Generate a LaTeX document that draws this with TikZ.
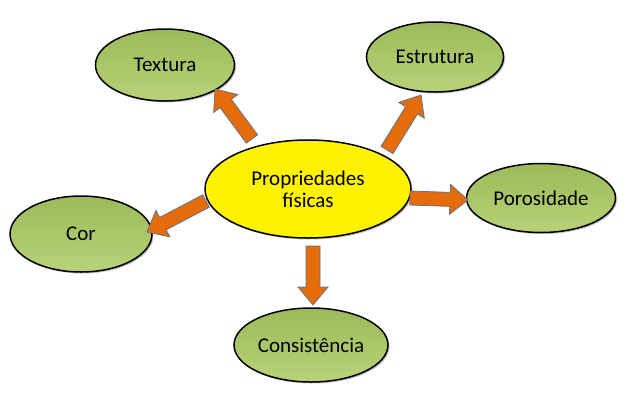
\documentclass[tikz,border=0pt]{standalone}
\usepackage{fontspec}
\setmainfont{Carlito}
\usetikzlibrary{calc,shadows,shapes.geometric}
\definecolor{leaf}{RGB}{155,187,89}
\definecolor{leaflight}{RGB}{185,210,120}
\definecolor{arroworange}{RGB}{228,108,10}
\definecolor{arrowedge}{RGB}{100,115,140}
\tikzset{
  bubble/.style={ellipse, draw=black, line width=1.5pt, inner sep=0pt,
    font=\fontsize{21}{24}\selectfont, text=black,
    drop shadow={shadow xshift=1.5pt, shadow yshift=-1.5pt, opacity=0.45, fill=gray!80!violet}},
  leafbubble/.style={bubble, top color=leaf, bottom color=leaflight},
  blockarrowstyle/.style={fill=arroworange, draw=arrowedge, line width=0.8pt, line join=miter}
}
\newcommand\blockarrow[2]{%
  \path[blockarrowstyle] let \p1=($(#2)-(#1)$), \n1={atan2(\y1,\x1)}, \n2={veclen(\x1,\y1)} in
    [shift={(#1)}, rotate=\n1]
    (0pt,-7pt) -- ({\n2-18pt},-7pt) -- ({\n2-18pt},-15pt) -- ({\n2},0pt)
    -- ({\n2-18pt},15pt) -- ({\n2-18pt},7pt) -- (0pt,7pt) -- cycle;}
\begin{document}
\begin{tikzpicture}[x=1pt,y=-1pt]
\useasboundingbox (0,0) rectangle (627,400);
\fill[white] (0,0) rectangle (627,400);
\node[bubble, fill=yellow, minimum width=206pt, minimum height=98pt, align=center] (c) at (308,189) {Propriedades\\[-2pt]físicas};
\node[leafbubble, minimum width=139pt, minimum height=72pt] (t) at (165,65) {Textura};
\node[leafbubble, minimum width=137pt, minimum height=70pt] (e) at (435,57) {Estrutura};
\node[leafbubble, minimum width=149pt, minimum height=69pt] (p) at (541,198) {Porosidade};
\node[leafbubble, minimum width=142pt, minimum height=76pt] (r) at (81,234) {Cor};
\node[leafbubble, minimum width=154pt, minimum height=74pt] (k) at (311,345) {Consistência};
\coordinate (ta) at (252,139); \coordinate (tb) at (215,89);
\coordinate (ea) at (387,150); \coordinate (eb) at (421,95);
\coordinate (pa) at (410,198); \coordinate (pb) at (468,200);
\coordinate (ra) at (206,201); \coordinate (rb) at (147,232);
\coordinate (ka) at (313,246); \coordinate (kb) at (313,305);
\blockarrow{ta}{tb}
\blockarrow{ea}{eb}
\blockarrow{pa}{pb}
\blockarrow{ra}{rb}
\blockarrow{ka}{kb}
\end{tikzpicture}
\end{document}
